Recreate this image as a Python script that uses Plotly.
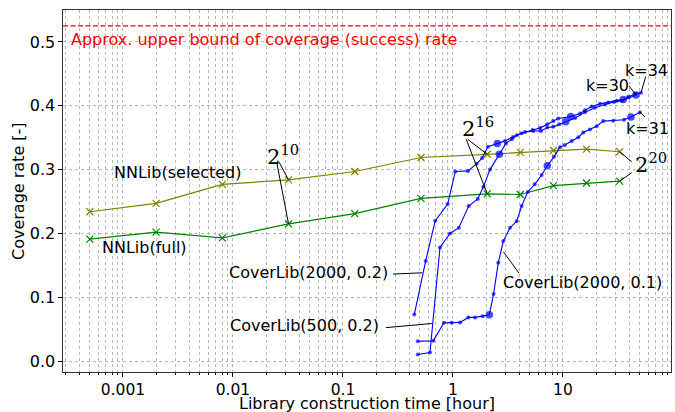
import math
import plotly.graph_objects as go

# ---------------- data ----------------
nn_time = [0.0005, 0.002, 0.008, 0.032, 0.128, 0.512, 2.048, 4.096, 8.192, 16.384, 32.768]
nn_selected = [0.234, 0.247, 0.277, 0.284, 0.297, 0.319, 0.324, 0.327, 0.330, 0.332, 0.328]
nn_full = [0.191, 0.202, 0.193, 0.215, 0.231, 0.255, 0.262, 0.261, 0.275, 0.279, 0.282]

cl_2000_02_time = [0.445, 0.565, 0.690, 0.895, 1.05, 1.37, 1.64, 1.84, 2.08, 2.53, 2.97, 3.51, 4.21,
                   5.30, 6.18, 7.20, 8.16, 9.06, 11.75, 14.3, 15.85, 18.2, 21.7, 25.8, 30.8, 35.3,
                   39.2, 45.2, 51.2]
cl_2000_02_cov = [0.073, 0.157, 0.220, 0.246, 0.297, 0.298, 0.309, 0.318, 0.336, 0.341, 0.345, 0.351,
                  0.357, 0.362, 0.365, 0.371, 0.376, 0.380, 0.383, 0.388, 0.393, 0.399, 0.403, 0.405,
                  0.408, 0.410, 0.414, 0.418, 0.4205]
cl_2000_02_big = [9, 18, 25]

cl_500_02_time = [0.478, 0.618, 0.762, 0.939, 1.13, 1.39, 1.68, 1.89, 2.17, 2.64, 3.03, 3.44, 3.80,
                  4.52, 5.37, 6.31, 7.20, 8.16, 9.25, 10.6, 12.9, 15.85, 19.5, 24.1, 29.1, 34.4,
                  39.8, 46.1]
cl_500_02_cov = [0.0105, 0.0136, 0.178, 0.200, 0.209, 0.243, 0.254, 0.273, 0.300, 0.324, 0.341, 0.348,
                 0.354, 0.359, 0.3605, 0.3605, 0.366, 0.367, 0.371, 0.375, 0.381, 0.390, 0.397, 0.402,
                 0.406, 0.408, 0.413, 0.417]
cl_500_02_big = [9, 19, 27]

cl_2000_01_time = [0.478, 0.662, 0.828, 0.973, 1.16, 1.38, 1.585, 1.86, 2.14, 2.34, 2.58, 2.87, 3.30,
                   3.79, 4.21, 4.78, 5.53, 6.40, 7.20, 8.28, 9.39, 10.4, 12.0, 13.8, 15.3, 17.6, 20.2,
                   23.2, 28.6, 35.9, 41.5, 50.1]
cl_2000_01_cov = [0.0313, 0.0318, 0.060, 0.060, 0.0607, 0.0685, 0.0685, 0.0705, 0.0726, 0.105, 0.154,
                  0.188, 0.209, 0.219, 0.243, 0.265, 0.277, 0.2915, 0.306, 0.320, 0.335, 0.3386, 0.345,
                  0.3506, 0.358, 0.363, 0.368, 0.376, 0.3766, 0.378, 0.3824, 0.390]
cl_2000_01_big = [8, 18, 30]

UPPER_BOUND = 0.525

x_tick_vals = [0.001, 0.01, 0.1, 1, 10]
x_tick_text = ["0.001", "0.01", "0.1", "1", "10"]
y_tick_vals = [0.0, 0.1, 0.2, 0.3, 0.4, 0.5]

# ---------------- figure ----------------
fig = go.Figure()

OLIVE = "#808000"
GREEN = "#008000"
BLUE = "#0000ff"

for ys, col in [(nn_selected, OLIVE), (nn_full, GREEN)]:
    fig.add_trace(go.Scatter(
        x=nn_time, y=ys, mode="lines+markers",
        line=dict(color=col, width=1.2),
        marker=dict(symbol="x-thin", size=7, color=col, line=dict(color=col, width=1.2)),
        hoverinfo="skip"))

for t, c, big in [(cl_2000_02_time, cl_2000_02_cov, cl_2000_02_big),
                  (cl_500_02_time, cl_500_02_cov, cl_500_02_big),
                  (cl_2000_01_time, cl_2000_01_cov, cl_2000_01_big)]:
    sizes = [7.5 if i in big else 4 for i in range(len(t))]
    fig.add_trace(go.Scatter(
        x=t, y=c, mode="lines+markers",
        line=dict(color=BLUE, width=1.1),
        marker=dict(symbol="circle", size=sizes, color=BLUE, line=dict(width=0)),
        hoverinfo="skip"))

# leader lines (start point in data units -> target data point)
leaders = [
    ((0.0262, 0.312), (nn_time[3], nn_selected[3])),
    ((0.0251, 0.310), (nn_time[3], nn_full[3])),
    ((1.36, 0.3475), (nn_time[6], nn_selected[6])),
    ((1.32, 0.3475), (nn_time[6], nn_full[6])),
    ((42.1, 0.3124), (nn_time[10], nn_selected[10])),
    ((42.1, 0.295), (nn_time[10], nn_full[10])),
    ((56.5, 0.4456), (cl_2000_02_time[-1], cl_2000_02_cov[-1])),
    ((39.8, 0.431), (cl_500_02_time[-1], cl_500_02_cov[-1])),
    ((55.6, 0.3824), (cl_2000_01_time[-1], cl_2000_01_cov[-1])),
    ((0.285, 0.1364), (0.526, 0.1384)),
    ((0.246, 0.0525), (0.648, 0.059)),
    ((3.98, 0.138), (2.88, 0.171)),
]
for (x0, y0), (x1, y1) in leaders:
    fig.add_trace(go.Scatter(x=[x0, x1], y=[y0, y1], mode="lines",
                             line=dict(color="black", width=1), hoverinfo="skip"))

fig.add_shape(type="line", xref="paper", x0=0, x1=1, yref="y", y0=UPPER_BOUND, y1=UPPER_BOUND,
              line=dict(color="red", width=1.3, dash="5px,2.5px"))

L = math.log10
TXT = dict(family="DejaVu Sans", size=16, color="black")
MATH = dict(family="DejaVu Serif", size=21, color="black")
ann = [
    dict(x=L(0.000323), y=0.504, text="Approx. upper bound of coverage (success) rate",
         xanchor="left", font=dict(family="DejaVu Sans", size=16, color="red")),
    dict(x=L(0.000789), y=0.295, text="NNLib(selected)", xanchor="left", font=TXT),
    dict(x=L(0.000618), y=0.1776, text="NNLib(full)", xanchor="left", font=TXT),
    dict(x=L(0.267), y=0.1395, text="CoverLib(2000, 0.2)", xanchor="right", font=TXT),
    dict(x=L(0.2215), y=0.0564, text="CoverLib(500, 0.2)", xanchor="right", font=TXT),
    dict(x=L(2.73), y=0.1238, text="CoverLib(2000, 0.1)", xanchor="left", font=TXT),
    dict(x=L(57.2), y=0.4545, text="k=34", xanchor="center", font=TXT),
    dict(x=L(25.4), y=0.4315, text="k=30", xanchor="center", font=TXT),
    dict(x=L(58.4), y=0.3647, text="k=31", xanchor="center", font=TXT),
    dict(x=L(0.01954), y=0.323, text="2<sup>10</sup>", xanchor="left", font=MATH),
    dict(x=L(1.158), y=0.366, text="2<sup>16</sup>", xanchor="left", font=MATH),
    dict(x=L(43.3), y=0.310, text="2<sup>20</sup>", xanchor="left", font=MATH),
]
for a in ann:
    fig.add_annotation(xref="x", yref="y", showarrow=False, yanchor="middle", **a)

# axis titles
fig.add_annotation(xref="paper", yref="paper", x=0.5, y=0, yshift=-31, showarrow=False,
                   xanchor="center", yanchor="middle", text="Library construction time [hour]",
                   font=TXT)
fig.add_annotation(xref="paper", yref="paper", x=0, y=0.5, xshift=-45, showarrow=False,
                   xanchor="center", yanchor="middle", textangle=-90, text="Coverage rate [-]",
                   font=TXT)

minor_vals = [k * 10 ** e for e in range(-4, 2) for k in range(2, 10)]

GRID = "#b8b8b8"
fig.update_xaxes(
    type="log", range=[-3.545, 1.982], automargin=False,
    tickmode="array", tickvals=x_tick_vals, ticktext=x_tick_text,
    ticks="outside", ticklen=3.5, tickcolor="black", tickwidth=1,
    showgrid=True, gridcolor=GRID, griddash="dot", gridwidth=1,
    minor=dict(tickmode="array", tickvals=minor_vals, ticks="outside", ticklen=2.2,
               tickcolor="black", tickwidth=0.8, showgrid=True, gridcolor=GRID,
               griddash="dot", gridwidth=1),
    showline=True, linecolor="#333333", linewidth=1.2, mirror=True,
    zeroline=False,
    tickfont=dict(size=15.5),
)
fig.update_yaxes(
    range=[-0.017, 0.55], automargin=False,
    tickmode="array", tickvals=y_tick_vals, ticktext=[f"{v:.1f}" for v in y_tick_vals],
    ticks="outside", ticklen=3.5, tickcolor="black", tickwidth=1,
    showgrid=True, gridcolor=GRID, griddash="dot", gridwidth=1,
    showline=True, linecolor="#333333", linewidth=1.2, mirror=True,
    zeroline=False,
    tickfont=dict(size=16),
)
fig.update_layout(
    width=675, height=412,
    margin=dict(l=63, r=4, t=10, b=40),
    paper_bgcolor="white", plot_bgcolor="white",
    showlegend=False,
    font=dict(family="DejaVu Sans", size=16, color="black"),
)

fig.write_html("out.html", config={"displayModeBar": False},
               post_script="document.body.style.margin='0';document.body.style.overflow='hidden';")
